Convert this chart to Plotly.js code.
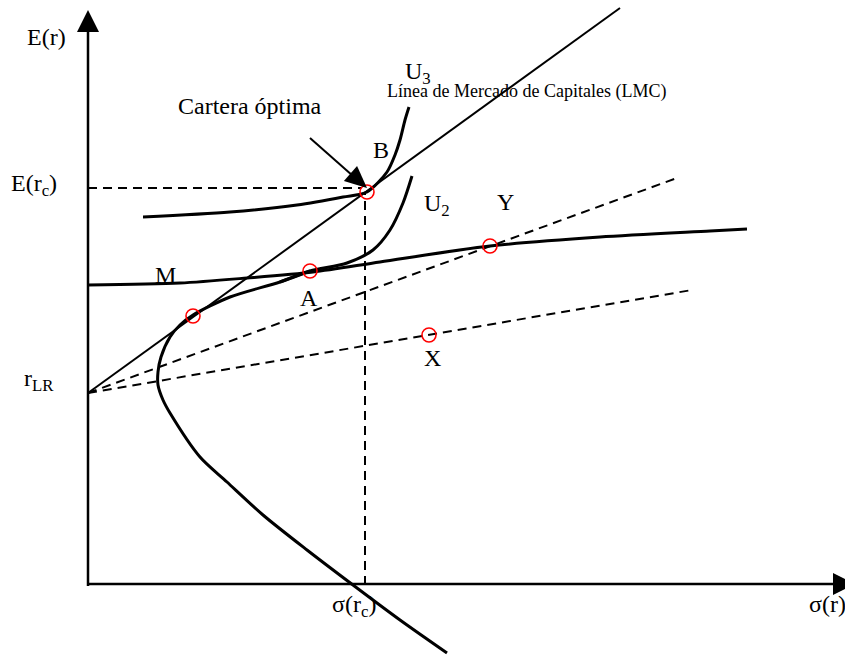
<!DOCTYPE html>
<html>
<head>
<meta charset="utf-8">
<script src="https://cdn.plot.ly/plotly-3.0.1.min.js"></script>
<style>
  html, body { margin: 0; padding: 0; background: #fff; }
  #chart { width: 845px; height: 655px; }
</style>
</head>
<body>
<div id="chart"></div>
<script>
// Risk (σ) on the x axis, expected return E(r) on the y axis.
var rLR = 192;                       // risk-free rate

// Minimum-variance frontier (lower branch up to portfolio A)
var frontierSigma = [359, 312, 265, 219, 175, 139, 112, 82, 75, 70, 70, 73, 82, 92, 105, 142, 192, 222];
var frontierE     = [-68, -35, 0, 35, 70, 103, 128, 172, 185, 200, 213, 228, 248, 260, 270, 288, 303, 314];

// Indifference curve U2 (rises steeply past A)
var u2Sigma = [192, 222, 259, 285, 302, 315, 324];
var u2E     = [303, 314, 322, 335, 355, 382, 409];

// Curve M (flat upper branch through A and Y)
var mSigma = [0, 92, 159, 225, 292, 402, 512, 622, 659];
var mE     = [300, 302, 307, 313, 323, 339, 348, 354, 356];

// Indifference curve U3, tangent to the LMC at B
var u3Sigma = [55, 142, 209, 255, 279, 299, 307, 312, 317, 321];
var u3E     = [368, 373, 380, 388, 393, 413, 430, 445, 465, 478];

// Lines leaving the risk-free asset: LMC, through Y, through X (end points)
var lmcEnd = [532, 577];
var rayYEnd = [589, 407];
var rayXEnd = [604, 295];

// Marked portfolios: tangency, A, Y, X, B
var ptNames = ['T', 'A', 'Y', 'X', 'B'];
var ptSigma = [105, 222, 402, 341, 279];
var ptE     = [269, 314, 339, 250, 393];

// Optimal portfolio read-outs: σ(rc) and E(rc)
var sigmaC = 277;
var eC = 397;

var font = 'Liberation Serif, Times New Roman, serif';
var ink = '#000';

function line(xs, ys, w, dash) {
  return {x: xs, y: ys, type: 'scatter', mode: 'lines',
          line: {color: ink, width: w, dash: dash || 'solid', shape: 'spline', smoothing: 0.8},
          hoverinfo: 'skip'};
}
function seg(xs, ys, w, dash) {
  return {x: xs, y: ys, type: 'scatter', mode: 'lines',
          line: {color: ink, width: w, dash: dash || 'solid'}, hoverinfo: 'skip'};
}

var traces = [
  // guide lines to E(rc) and σ(rc)
  seg([0, sigmaC - 4], [eC, eC], 2, '9px,6px'),
  seg([sigmaC, sigmaC], [0, ptE[4]], 2, '9px,6px'),
  // rays from r_LR
  seg([0, rayYEnd[0]], [rLR, rayYEnd[1]], 2, '9px,6px'),
  seg([0, rayXEnd[0]], [rLR, rayXEnd[1]], 2, '9px,6px'),
  seg([0, lmcEnd[0]], [rLR, lmcEnd[1]], 2),
  // curves
  line(frontierSigma, frontierE, 3),
  line(u2Sigma, u2E, 3),
  line(mSigma, mE, 3),
  line(u3Sigma, u3E, 3),
  // marked portfolios
  {x: ptSigma, y: ptE, text: ptNames, type: 'scatter', mode: 'markers',
   marker: {symbol: 'circle-open', size: 14, color: '#ff0000', line: {width: 1.6, color: '#ff0000'}},
   hoverinfo: 'skip'}
];

// Arrow heads drawn as filled triangles
function head(tip, from, len, half) {
  var dx = tip[0] - from[0], dy = tip[1] - from[1];
  var L = Math.sqrt(dx * dx + dy * dy);
  var ux = dx / L, uy = dy / L;
  var bx = tip[0] - ux * len, by = tip[1] - uy * len;
  var px = -uy * half, py = ux * half;
  return 'M' + tip[0] + ',' + tip[1] + ' L' + (bx + px) + ',' + (by + py) +
         ' L' + (bx - px) + ',' + (by - py) + ' Z';
}

var yTop = 575, xRight = 767;
var calloutFrom = [222, 447], calloutTip = [279, 397];
var shapes = [
  // y axis
  {type: 'line', x0: 0, y0: -1, x1: 0, y1: 555, line: {color: ink, width: 2.5}},
  {type: 'path', path: head([0, yTop], [0, 0], 22, 11), fillcolor: ink, line: {color: ink, width: 0}},
  // x axis
  {type: 'line', x0: 0, y0: 1, x1: 748, y1: 1, line: {color: ink, width: 2.5}},
  {type: 'path', path: head([xRight, 1], [0, 1], 22, 11), fillcolor: ink, line: {color: ink, width: 0}},
  // callout arrow "Cartera óptima"
  {type: 'line', x0: calloutFrom[0], y0: calloutFrom[1], x1: 265, y1: 409, line: {color: ink, width: 2}},
  {type: 'path', path: head(calloutTip, calloutFrom, 22, 10), fillcolor: ink, line: {color: ink, width: 0}}
];

function lbl(x, y, text, size, anchor) {
  return {x: x, y: y, text: text, showarrow: false, xanchor: anchor || 'center', yanchor: 'middle',
          font: {family: font, size: size || 24, color: ink}};
}

var annotations = [
  lbl(-42, 548, 'E(r)'),
  lbl(-54, 400, 'E(r<sub>c</sub>)'),
  lbl(-49, 205, 'r<sub>LR</sub>'),
  lbl(162, 479, 'Cartera óptima'),
  lbl(293, 435, 'B'),
  lbl(315, 512, 'U<sub>3</sub>', 24, 'left'),
  lbl(297, 494, 'Línea de Mercado de Capitales (LMC)', 18, 'left'),
  lbl(334, 380, 'U<sub>2</sub>', 24, 'left'),
  lbl(417, 383, 'Y'),
  lbl(77, 310, 'M'),
  lbl(221, 287, 'A'),
  lbl(344, 227, 'X'),
  lbl(266, -21, 'σ(r<sub>c</sub>)'),
  lbl(719, -19, 'σ(r)', 24, 'left')
];

var layout = {
  width: 845, height: 655,
  margin: {l: 0, r: 0, t: 0, b: 0, pad: 0},
  paper_bgcolor: '#fff', plot_bgcolor: '#fff',
  showlegend: false,
  xaxis: {range: [-88, 757], visible: false, fixedrange: true},
  yaxis: {range: [-70, 585], visible: false, fixedrange: true},
  shapes: shapes,
  annotations: annotations,
  hovermode: false
};

Plotly.newPlot('chart', traces, layout, {staticPlot: true, displayModeBar: false});
</script>
</body>
</html>
